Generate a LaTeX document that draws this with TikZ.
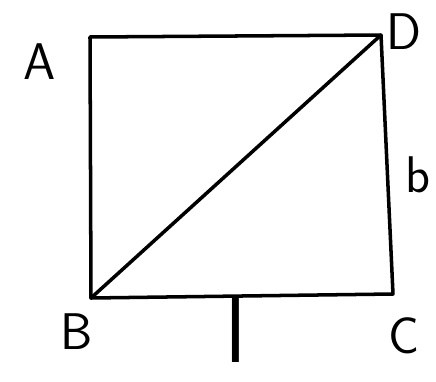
\documentclass[tikz,border=0pt]{standalone}
\usepackage{tikz}
\usetikzlibrary{calc,positioning}

\begin{document}
\begin{tikzpicture}[x=0.03cm,y=-0.03cm,
    side/.style={line width=3pt,line cap=round,line join=round},
    lbl/.style={font=\sffamily\fontsize{44}{50}\selectfont,inner sep=0pt}]
          % frame
          \useasboundingbox (0,0) rectangle (436,382);
          % corners
          \coordinate (A) at (90,37);
          \coordinate (D) at (381,35);
          \coordinate (C) at (393,294);
          \coordinate (B) at (91,298);
          % Draw the rectangle
          \draw[side] (A) -- (D) -- (C) -- (B) -- cycle;
          % diagonal
          \draw[side] (B) -- (D);
          % Mark points
          \node[lbl] (lA) at (40,62) {A};
          \node[lbl] (lD) at (404,32) {D};
          \node[lbl] (lB) at (77,332) {B};
          \node[lbl] (lC) at (404,336) {C};
          % sides
          \node[lbl] (lb) at (418,175) {b};
          \node[lbl,font=\sffamily\fontsize{80}{90}\selectfont] (ll) at (236,330) {l};
        \end{tikzpicture}
\end{document}
